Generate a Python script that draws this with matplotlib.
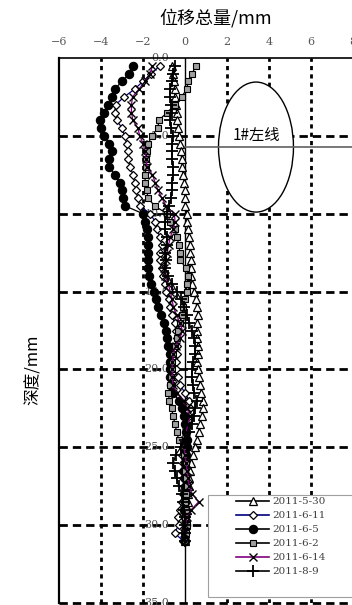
import numpy as np
import matplotlib
matplotlib.use("Agg")
import matplotlib.pyplot as plt
from matplotlib.patches import Ellipse, Rectangle
from matplotlib.lines import Line2D

plt.rcParams['font.family'] = ['Noto Sans CJK SC', 'DejaVu Sans']

# depth of each measuring point (m)
depth = [0.5, 1.0, 1.5, 2.0, 2.5, 3.0, 3.5, 4.0, 4.5, 5.0,
         5.5, 6.0, 6.5, 7.0, 7.5, 8.0, 8.5, 9.0, 9.5, 10.0,
         10.5, 11.0, 11.5, 12.0, 12.5, 13.0, 13.5, 14.0, 14.5, 15.0,
         15.5, 16.0, 16.5, 17.0, 17.5, 18.0, 18.5, 19.0, 19.5, 20.0,
         20.5, 21.0, 21.5, 22.0, 22.5, 23.0, 23.5, 24.0, 24.5, 25.0,
         25.5, 26.0, 26.5, 27.0, 27.5, 28.0, 28.5, 29.0, 29.5, 30.0,
         30.5, 31.0]

d0530 = [-0.6, -0.56, -0.52, -0.5, -0.48, -0.44, -0.4, -0.36, -0.32, -0.28,
         -0.24, -0.2, -0.16, -0.12, -0.08, -0.05, 0.0, 0.0, 0.02, 0.08,
         0.1, 0.14, 0.18, 0.22, 0.26, 0.3, 0.3, 0.3, 0.35, 0.42,
         0.5, 0.56, 0.63, 0.58, 0.56, 0.58, 0.63, 0.63, 0.58, 0.6,
         0.66, 0.72, 0.78, 0.85, 0.87, 0.8, 0.72, 0.65, 0.58, 0.48,
         0.38, 0.3, 0.25, 0.2, 0.2, 0.15, 0.15, 0.1, 0.05, 0.05,
         0.0, 0.0]

d0611 = [-1.2, -1.6, -2.0, -2.4, -2.9, -3.3, -3.35, -3.25, -3.0, -2.88,
         -2.78, -2.7, -2.7, -2.62, -2.47, -2.4, -2.33, -2.25, -2.15, -1.65,
         -1.43, -1.33, -1.2, -1.1, -1.18, -1.18, -1.1, -1.03, -0.97, -0.9,
         -0.78, -0.7, -0.64, -0.5, -0.42, -0.4, -0.38, -0.4, -0.42, -0.45,
         -0.35, -0.24, 0.0, 0.2, 0.25, 0.2, 0.1, 0.05, 0.0, -0.1,
         -0.15, -0.1, -0.15, -0.1, -0.05, -0.1, -0.15, -0.25, -0.35, -0.3,
         -0.5, -0.1]

d0605 = [-2.5, -2.65, -3.0, -3.35, -3.5, -3.65, -3.85, -4.05, -4.0, -3.85,
         -3.6, -3.5, -3.6, -3.6, -3.35, -3.1, -3.0, -2.95, -2.85, -2.0,
         -1.9, -1.8, -1.75, -1.75, -1.75, -1.75, -1.75, -1.7, -1.6, -1.5,
         -1.4, -1.3, -1.15, -1.0, -0.9, -0.85, -0.8, -0.72, -0.7, -0.72,
         -0.7, -0.66, -0.55, -0.3, -0.15, -0.05, 0.0, 0.05, 0.08, 0.08,
         0.05, 0.0, -0.05, 0.0, 0.05, 0.0, 0.02, -0.05, 0.0, 0.05,
         0.0, 0.0]

d0602 = [0.5, 0.35, 0.16, 0.08, -0.16, -0.48, -0.85, -1.25, -1.28, -1.58,
         -1.75, -1.8, -1.85, -1.85, -1.9, -1.9, -1.83, -1.75, -1.45, -0.85,
         -0.7, -0.5, -0.38, -0.3, -0.24, -0.22, 0.05, 0.15, 0.08, 0.08,
         0.0, -0.08, -0.16, -0.24, -0.32, -0.4, -0.5, -0.55, -0.6, -0.6,
         -0.65, -0.7, -0.79, -0.75, -0.64, -0.56, -0.48, -0.4, -0.3, -0.1,
         -0.05, 0.05, 0.0, 0.05, 0.1, 0.05, 0.0, 0.05, 0.0, 0.1,
         0.05, 0.0]

d0614 = [-1.55, -1.65, -1.9, -2.2, -2.5, -2.55, -2.55, -2.48, -2.25, -2.15,
         -2.0, -1.9, -1.85, -1.8, -1.55, -1.42, -1.28, -1.1, -0.9, -0.5,
         -0.48, -0.56, -0.7, -0.78, -0.85, -0.92, -1.0, -0.95, -0.8, -0.7,
         -0.62, -0.55, -0.4, -0.25, -0.12, -0.25, -0.45, -0.55, -0.6, -0.62,
         -0.6, -0.58, -0.4, -0.1, 0.1, 0.22, 0.15, 0.05, 0.0, -0.05,
         0.0, 0.05, 0.1, 0.15, 0.2, 0.35, 0.65, 0.3, 0.1, 0.0,
         -0.05, 0.0]

d0809 = [-0.5, -0.55, -0.63, -0.7, -0.7, -0.65, -0.63, -0.7, -0.65, -0.58,
         -0.6, -0.62, -0.63, -0.56, -0.58, -0.63, -0.63, -0.68, -0.75, -0.87,
         -0.95, -0.95, -0.88, -0.87, -0.95, -0.9, -0.95, -0.8, -0.6, -0.4,
         -0.2, -0.05, 0.08, 0.2, 0.32, 0.45, 0.48, 0.48, 0.4, 0.35,
         0.32, 0.36, 0.45, 0.55, 0.48, 0.42, 0.32, 0.2, 0.0, -0.2,
         -0.45, -0.55, -0.5, -0.4, -0.3, -0.15, -0.1, -0.05, 0.0, 0.0,
         0.0, 0.0]

labels = ['2011-5-30', '2011-6-11', '2011-6-5', '2011-6-2', '2011-6-14', '2011-8-9']
xticks = [-6, -4, -2, 0, 2, 4, 6, 8]
yticks = [0, 5, 10, 15, 20, 25, 30, 35]

styles = [
    dict(color='black', marker='^', ms=5.5, mfc='white', mec='black', mew=0.9),
    dict(color='#000080', marker='D', ms=4.5, mfc='white', mec='black', mew=0.9),
    dict(color='black', marker='o', ms=6, mfc='black', mec='black', mew=0.8),
    dict(color='black', marker='s', ms=3.8, mfc='#a0a0a0', mec='black', mew=0.8),
    dict(color='#800080', marker='x', ms=6, mfc='none', mec='black', mew=1.0),
    dict(color='black', marker='+', ms=8, mfc='none', mec='black', mew=1.3),
]
series = [d0530, d0611, d0605, d0602, d0614, d0809]

W, H = 352, 605
fig = plt.figure(figsize=(W / 100, H / 100), dpi=100)
ax = fig.add_axes([59 / W, 1 - 603 / H, 294 / W, 545 / H])
ax.set_xlim(-6, 8)
ax.set_ylim(35, 0)

# grid
for x in [-4, -2, 2, 4, 6]:
    ax.axvline(x, color='black', lw=2.0, ls=(0, (1.5, 1.5)), zorder=1)
for y in [5, 10, 15, 20, 25, 30, 35]:
    ax.axhline(y, color='black', lw=2.0, ls=(0, (3, 1.8)), zorder=1, clip_on=False)
ax.axvline(0, color='black', lw=1.0, zorder=2)

# ellipse annotation
ax.add_patch(Ellipse((3.38, 5.72), 3.57, 8.35, facecolor='white', edgecolor='black', lw=1.0, zorder=3))
ax.plot([0, 8], [5.72, 5.72], color='#606060', lw=1.2, zorder=4)
ax.text(3.38, 4.95, '1#左线', ha='center', va='center', fontsize=11, zorder=5,
        family=['Noto Sans CJK SC'])

# depth labels along the zero axis
for y in yticks:
    ax.text(-0.75, y, '%.1f' % y, ha='right', va='center', fontsize=8,
            color='#555555', family='DejaVu Serif', zorder=2, clip_on=False)

for vals, st, lab in zip(series, styles, labels):
    ax.plot(vals, depth, lw=0.9, label=lab, zorder=6, **st)

ax.xaxis.tick_top()
ax.set_xticks(xticks)
ax.set_xticklabels(['\u2212%d' % -v if v < 0 else '%d' % v for v in xticks],
                   family='DejaVu Serif', fontsize=8, color='#555555')
ax.tick_params(axis='x', length=0, pad=8)
ax.set_yticks([])
ax.spines['right'].set_visible(False)
ax.spines['bottom'].set_visible(False)
ax.spines['left'].set_linewidth(1.6)
ax.spines['top'].set_linewidth(1.2)

fig.text(216 / W, 1 - 18 / H, '位移总量/mm', ha='center', va='center', fontsize=13)
fig.text(33 / W, 1 - 370 / H, '深度/mm', ha='center', va='center', fontsize=12, rotation=90)

# legend box
fig.add_artist(Rectangle((208 / W, 1 - 597 / H), 150 / W, 102 / H, transform=fig.transFigure,
                         facecolor='white', edgecolor='#a0a0a0', lw=0.8, zorder=4))
handles = [Line2D([], [], lw=1.2, **st) for st in styles]
leg = fig.legend(handles, labels, loc='upper left', bbox_to_anchor=(236 / W, 1 - 497 / H),
                 frameon=False, borderpad=0, borderaxespad=0, handlelength=3.2,
                 handletextpad=0.25, labelspacing=0.45, numpoints=1,
                 prop={'family': 'DejaVu Serif', 'size': 7.5})
leg.set_zorder(5)
for t in leg.get_texts():
    t.set_color('#404040')

fig.savefig('out.png', dpi=100)
